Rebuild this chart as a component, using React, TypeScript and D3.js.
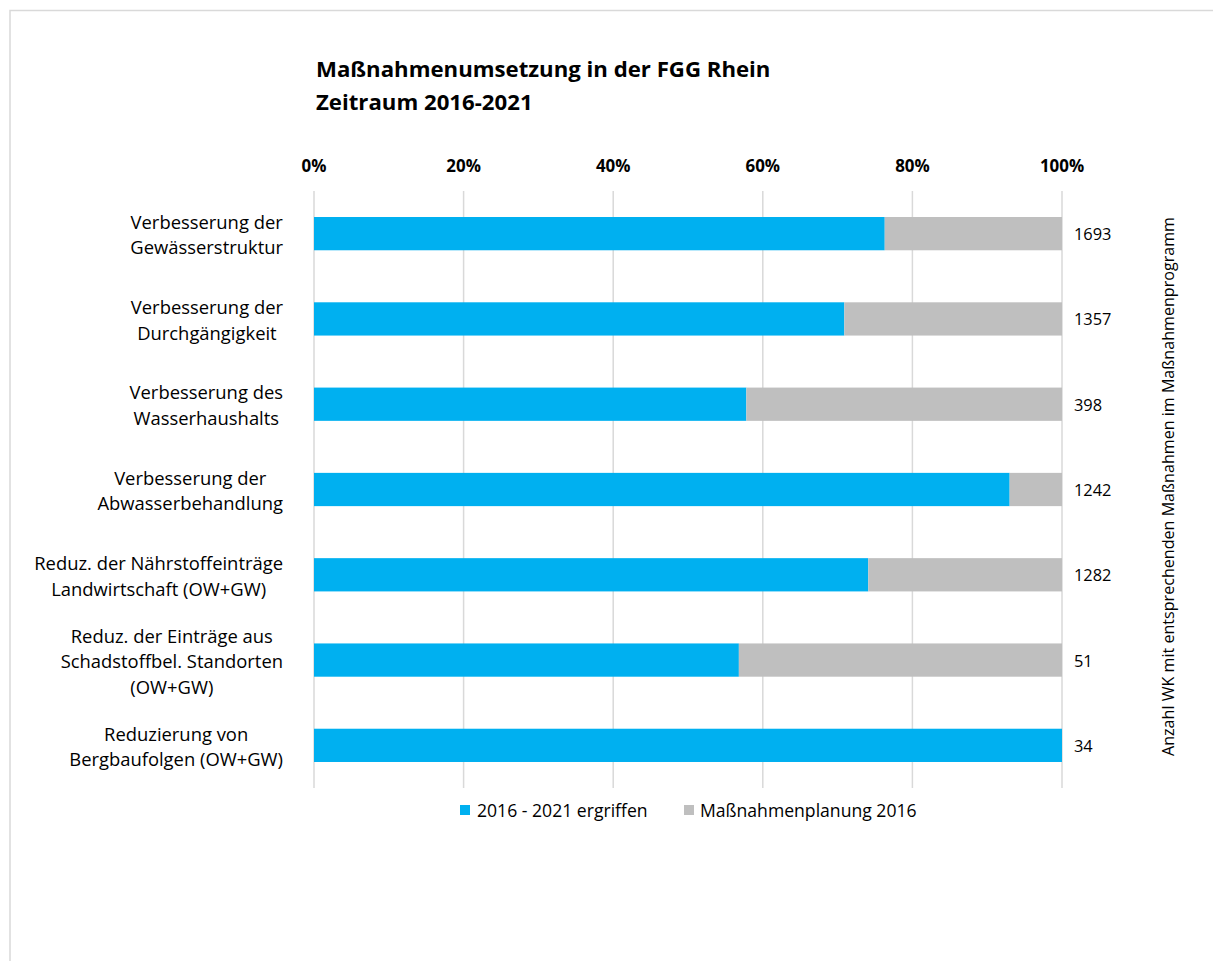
import React from "react";
import * as d3 from "d3";

const title1 = "Maßnahmenumsetzung in der FGG Rhein";
const title2 = "Zeitraum 2016-2021";
const categories = [
  "Verbesserung der\nGewässerstruktur",
  "Verbesserung der\nDurchgängigkeit",
  "Verbesserung des\nWasserhaushalts",
  "Verbesserung der\nAbwasserbehandlung",
  "Reduz. der Nährstoffeinträge\nLandwirtschaft (OW+GW)",
  "Reduz. der Einträge aus\nSchadstoffbel. Standorten\n(OW+GW)",
  "Reduzierung von\nBergbaufolgen (OW+GW)",
];
const ergriffen = [76.3, 70.9, 57.8, 93.0, 74.1, 56.8, 100];
const planung = [23.7, 29.1, 42.2, 7.0, 25.9, 43.2, 0];
const anzahl = [1693, 1357, 398, 1242, 1282, 51, 34];
const xTicks = [0, 20, 40, 60, 80, 100];
const seriesNames = ["2016 - 2021 ergriffen", "Maßnahmenplanung 2016"];
const rightTitle = "Anzahl WK mit entsprechenden Maßnahmen im Maßnahmenprogramm";

const BLUE = "#00B0F0";
const GREY = "#BFBFBF";
const FONT = "'Open Sans', sans-serif";
const LABEL_SIZE = 18.4;

let ctx: CanvasRenderingContext2D | null = null;
function measure(text: string, size: number, weight = "normal") {
  if (!ctx) ctx = document.createElement("canvas").getContext("2d");
  if (!ctx) return text.length * size * 0.55;
  ctx.font = `${weight} ${size}px 'Open Sans'`;
  return ctx.measureText(text).width;
}

export default function App() {
  const W = 1213, H = 961;
  const x = d3.scaleLinear().domain([0, 100]).range([314, 1062]);
  const y = d3.scaleBand<string>().domain(categories).range([191, 788]).paddingInner(0.61).paddingOuter(0.305);
  const stack = d3.stack<number>().keys(["e", "p"]).value((i, k) => (k === "e" ? ergriffen[i] : planung[i]));
  const series = stack(d3.range(categories.length));
  const colors = [BLUE, GREY];
  const lineH = 25.5;
  const labelRight = 283;

  return (
    <svg width={W} height={H} style={{ position: "absolute", left: 0, top: 0, fontFamily: FONT }}>
      <rect x={0} y={0} width={W} height={H} fill="#fff" />
      <rect x={10} y={10.5} width={W + 20} height={H + 20} fill="none" stroke="#D9D9D9" strokeWidth={1.5} />
      <text x={316} y={77} fontSize={22.2} fontWeight="bold" fill="#000">{title1}</text>
      <text x={316} y={110} fontSize={22.2} fontWeight="bold" fill="#000">{title2}</text>
      {xTicks.map((t) => (
        <g key={t}>
          <line x1={x(t)} x2={x(t)} y1={191} y2={788} stroke="#D9D9D9" strokeWidth={1.5} />
          <text x={x(t)} y={172} textAnchor="middle" fontSize={16.9} fontWeight="bold" fill="#000">{t}%</text>
        </g>
      ))}
      {series.map((s, si) => (
        <g key={si} fill={colors[si]}>
          {s.map((d, i) => (
            <rect key={i} x={x(d[0])} width={Math.max(0, x(d[1]) - x(d[0]))} y={y(categories[i])} height={y.bandwidth()} />
          ))}
        </g>
      ))}
      {categories.map((c, i) => {
        const lines = c.split("\n");
        const maxW = Math.max(...lines.map((l) => measure(l, LABEL_SIZE)));
        const cx = labelRight - maxW / 2;
        const cy = (y(c) as number) + y.bandwidth() / 2;
        const y0 = cy - ((lines.length - 1) * lineH) / 2;
        return (
          <text key={i} textAnchor="middle" fontSize={LABEL_SIZE} fill="#000" dominantBaseline="central">
            {lines.map((l, j) => (
              <tspan key={j} x={cx} y={y0 + j * lineH}>{l}</tspan>
            ))}
          </text>
        );
      })}
      {anzahl.map((v, i) => (
        <text key={i} x={1074} y={(y(categories[i]) as number) + y.bandwidth() / 2} dominantBaseline="central" fontSize={16.4} fill="#000">{v}</text>
      ))}
      <text transform={`translate(1168,${(191 + 788) / 2 - 3}) rotate(-90)`} textAnchor="middle" dominantBaseline="central" fontSize={16.1} fill="#000">{rightTitle}</text>
      <g>
        <rect x={460} y={805} width={10} height={10} fill={BLUE} />
        <text x={477} y={810} dominantBaseline="central" fontSize={17.6} fill="#000">{seriesNames[0]}</text>
        <rect x={684} y={805} width={10} height={10} fill={GREY} />
        <text x={700} y={810} dominantBaseline="central" fontSize={17.6} fill="#000">{seriesNames[1]}</text>
      </g>
    </svg>
  );
}
